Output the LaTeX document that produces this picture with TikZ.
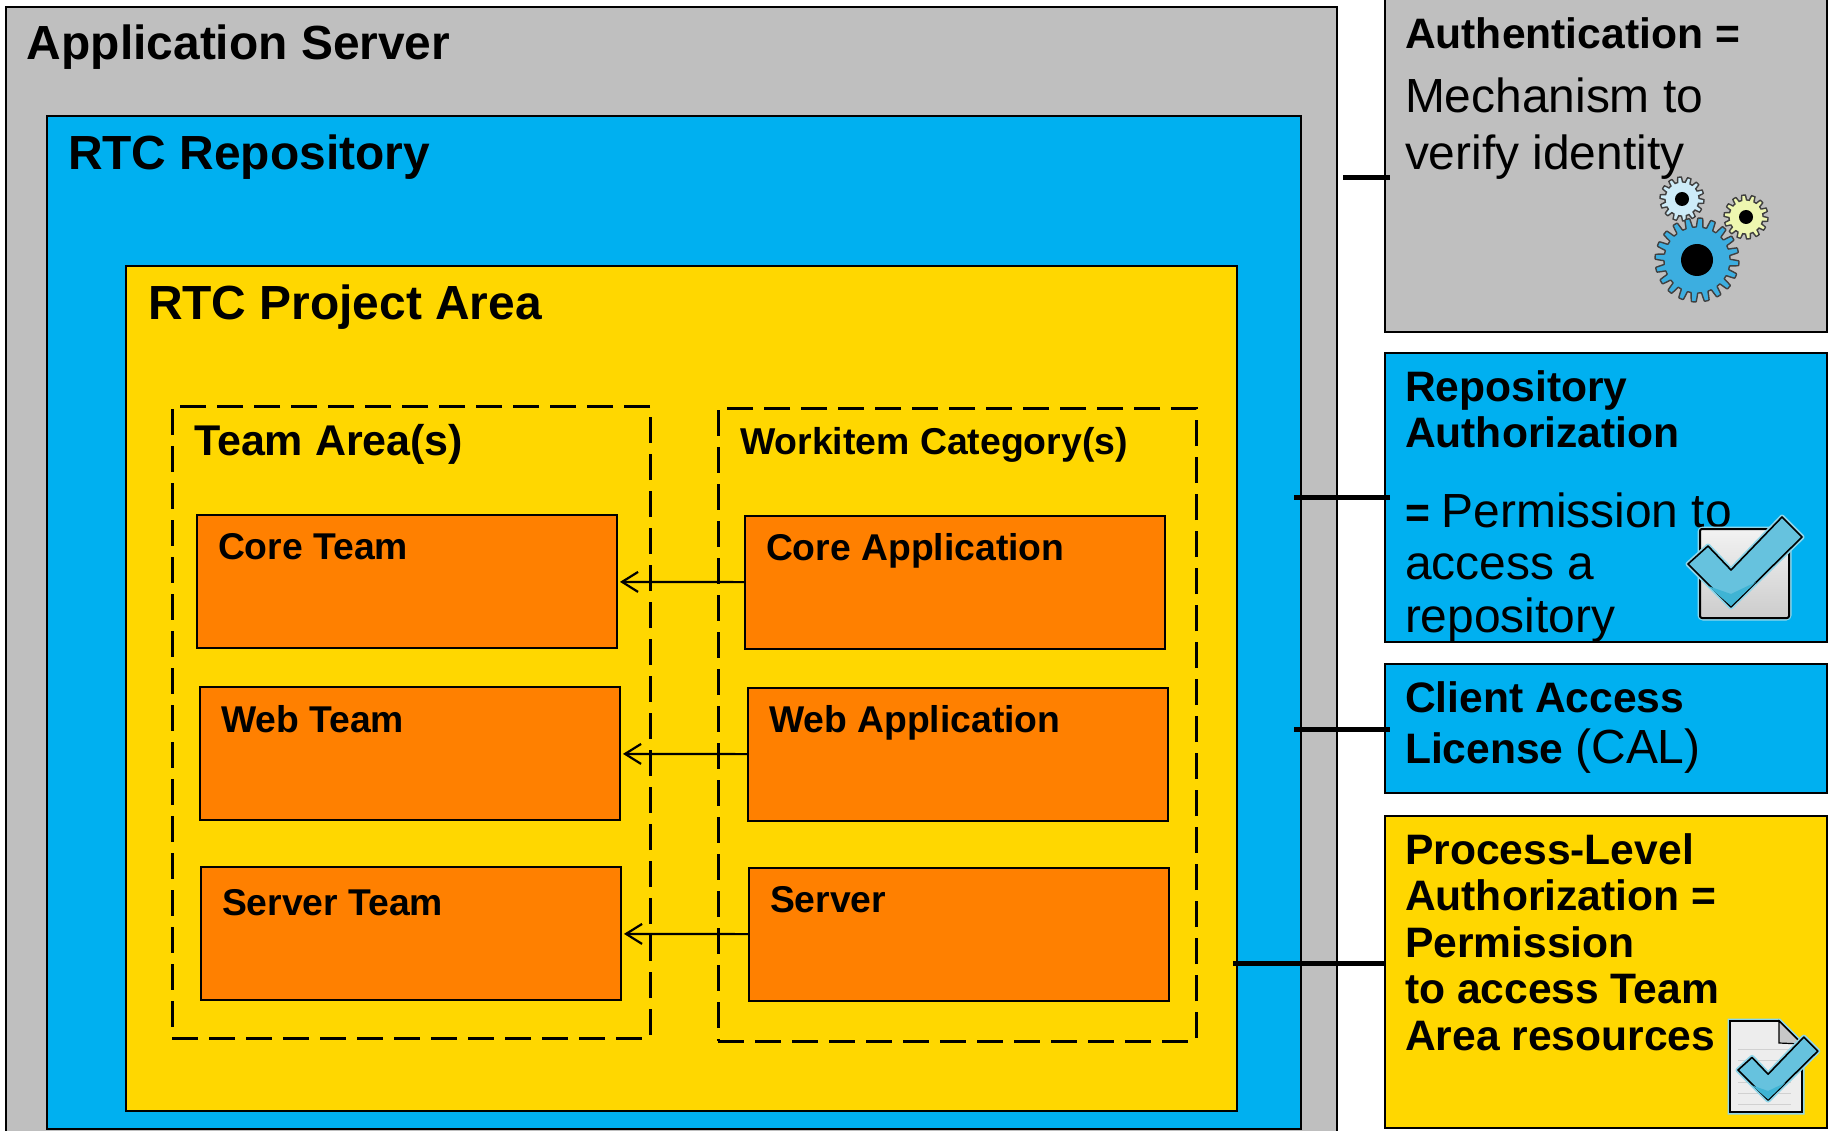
\documentclass[tikz,border=0pt]{standalone}
\usepackage{fontspec}
\setmainfont{Liberation Sans}
\usepackage{tikz}
\usetikzlibrary{arrows.meta}

\definecolor{panelgray}{HTML}{BFBFBF}
\definecolor{repoblue}{HTML}{00B0F0}
\definecolor{areayellow}{HTML}{FFD700}
\definecolor{teamorange}{HTML}{FF8000}
\definecolor{tickblue}{HTML}{66C2DE}
\definecolor{tickhalo}{HTML}{8FD6EA}
\definecolor{tickdark}{HTML}{3FB4D4}
\definecolor{gearblue}{HTML}{3CAEE0}
\definecolor{gearpale}{HTML}{CDEBF8}
\definecolor{gearlime}{HTML}{EEF7B0}

% sizes of the texts, bold unless \plain is used
\newcommand{\bigbold}{\fontsize{47.9}{52}\selectfont\bfseries}
\newcommand{\midbold}{\fontsize{42.6}{46.5}\selectfont\bfseries}
\newcommand{\smallbold}{\fontsize{37.3}{42}\selectfont\bfseries}
\newcommand{\plain}{\fontsize{47.9}{46.5}\selectfont\mdseries}

% x, y, middle radius, tooth height, teeth, fill, hole
\newcommand{\gearicon}[7]{
	\begin{scope}[shift={(#1,#2)}]
		\draw [line width=1.4pt, black!75, fill=#6] plot [domain=0:360, samples=361] (\x:{#3+#4*max(-1,min(1,2.5*sin(#5*\x)))}) -- cycle;
		\fill (0,0) circle (#7);
	\end{scope}}
% x, y of the left corner, scale
\newcommand{\tickicon}[3]{
	\begin{scope}[shift={(#1,#2)}, scale=#3]
		\draw [line width=5pt, tickhalo, line join=round] (0,0) -- (20,-18) -- (43,6) -- (94,-47) -- (114,-27) -- (43,43) -- cycle;
		\draw [line width=1.6pt, fill=tickblue, line join=round] (0,0) -- (20,-18) -- (43,6) -- (94,-47) -- (114,-27) -- (43,43) -- cycle;
		\fill [tickdark] (20,22) -- (43,42) -- (68,18) -- (43,30) -- cycle;
	\end{scope}}

\begin{document}
\begin{tikzpicture}[x=1pt,y=-1pt,
		box/.style = {draw, line width=2.6pt, anchor=north west, inner sep=0, outer sep=0},
		teambox/.style = {box, fill=teamorange, minimum width=420, minimum height=133},
		dashbox/.style = {draw, line width=3pt, anchor=north west, inner sep=0, outer sep=0, dash pattern=on 26pt off 11pt},
		words/.style = {anchor=base west, inner sep=0, outer sep=0, align=left},
		stub/.style = {line width=5pt},
		link/.style = {line width=2.2pt, -{Straight Barb[length=16pt,width=20pt]}, shorten >=3pt}]
	\clip (0,0) rectangle (1828,1131);
	% nested areas
	\node [box, fill=panelgray, minimum width=1331, minimum height=1180] (appServer) at (6,7) {};
	\node [box, fill=repoblue, minimum width=1254, minimum height=1013] (rtcRepo) at (47,116) {};
	\node [box, fill=areayellow, minimum width=1111, minimum height=845] (projectArea) at (126,266) {};
	\node [dashbox, minimum width=478, minimum height=632] (teamArea) at (172,406) {};
	\node [dashbox, minimum width=478, minimum height=633] (categoryArea) at (718,408) {};

	\node [teambox] (coreTeam) at (197,515) {};
	\node [teambox] (webTeam) at (200,687) {};
	\node [teambox] (serverTeam) at (201,867) {};
	\node [teambox] (coreApp) at (745,516) {};
	\node [teambox] (webApp) at (748,688) {};
	\node [teambox] (serverApp) at (749,868) {};

	% boxes on the right
	\node [box, fill=panelgray, minimum width=442, minimum height=334] (authBox) at (1385,-2) {};
	\node [box, fill=repoblue, minimum width=442, minimum height=289] (repoBox) at (1385,353) {};
	\node [box, fill=repoblue, minimum width=442, minimum height=129] (calBox) at (1385,664) {};
	\node [box, fill=areayellow, minimum width=442, minimum height=312] (processBox) at (1385,816) {};

	% texts
	\node [words, font=\bigbold] (appLabel) at (27,60) {Application Server};
	\node [words, font=\bigbold] (repoLabel) at (68,170) {RTC Repository};
	\node [words, font=\bigbold] (projectLabel) at (148,320) {RTC Project Area};
	\node [words, font=\fontsize{43}{47}\selectfont\bfseries] (teamLabel) at (194,455) {Team Area(s)};
	\node [words, font=\fontsize{37.4}{42}\selectfont\bfseries] (categoryLabel) at (740,454) {Workitem Category(s)};
	\node [words, font=\smallbold] (coreTeamLabel) at (218,559) {Core Team};
	\node [words, font=\smallbold] (webTeamLabel) at (221,732) {Web Team};
	\node [words, font=\smallbold] (serverTeamLabel) at (222,915) {Server Team};
	\node [words, font=\smallbold] (coreAppLabel) at (766,560) {Core Application};
	\node [words, font=\smallbold] (webAppLabel) at (769,732) {Web Application};
	\node [words, font=\smallbold] (serverAppLabel) at (770,912) {Server};

	\node [words, font=\midbold] (authLabel) at (1405,170) {Authentication =\\[17pt]{\plain Mechanism to}\\[11pt]{\plain verify identity}};
	\node [words, font=\midbold] (repoAuthLabel) at (1405,632) {Repository\\Authorization\\[33pt]= {\plain Permission to}\\[5.5pt]{\plain access a}\\[6.5pt]{\plain repository}};
	\node [words, font=\midbold] (calLabel) at (1405,763) {Client Access\\[4.5pt]License {\plain (CAL)}};
	\node [words, font=\midbold] (processLabel) at (1405,1050) {Process-Level\\Authorization =\\Permission\\to access Team\\Area resources};

	% connectors
	\foreach \src/\dst in {coreApp/coreTeam, webApp/webTeam, serverApp/serverTeam}
		\draw [link] (\src) -- (\dst);
	\coordinate (authStub) at (1343,178);
	\coordinate (repoStub) at (1294,497);
	\coordinate (calStub) at (1294,729);
	\coordinate (processStub) at (1233,963);
	\draw [stub] (authStub) -- ([xshift=5pt]authBox.west |- authStub);
	\draw [stub] (repoStub) -- ([xshift=5pt]repoBox.west |- repoStub);
	\draw [stub] (calStub) -- ([xshift=5pt]calBox.west |- calStub);
	\draw [stub] (processStub) -- (processBox.west |- processStub);

	% gears
	\gearicon{1682}{199}{19.5}{2.5}{14}{gearpale}{7}
	\gearicon{1746}{217}{19.5}{2.5}{14}{gearlime}{7}
	\gearicon{1697}{260}{37.5}{4.5}{20}{gearblue}{16}

	% checked box
	\draw [line width=5pt, tickhalo, rounded corners=3pt] (1700,529) rectangle (1789,618);
	\shade [draw, line width=2pt, top color=white!95!black, bottom color=black!20, rounded corners=2pt] (1700,529) rectangle (1789,618);
	\tickicon{1688}{564}{1}

	% checked page
	\draw [line width=5pt, tickhalo] (1730,1021) -- (1779,1021) -- (1802,1044) -- (1802,1112) -- (1730,1112) -- cycle;
	\draw [line width=1.8pt, fill=white!93!black] (1730,1021) -- (1779,1021) -- (1802,1044) -- (1802,1112) -- (1730,1112) -- cycle;
	\draw [line width=1.2pt, fill=black!22] (1779,1021) -- (1779,1043) -- (1802,1044) -- cycle;
	\foreach \y in {1049,1060,...,1105}
		\draw [line width=1pt, black!18] (1738,\y) -- (1791,\y);
	\tickicon{1738}{1070}{0.7}
\end{tikzpicture}
\end{document}
